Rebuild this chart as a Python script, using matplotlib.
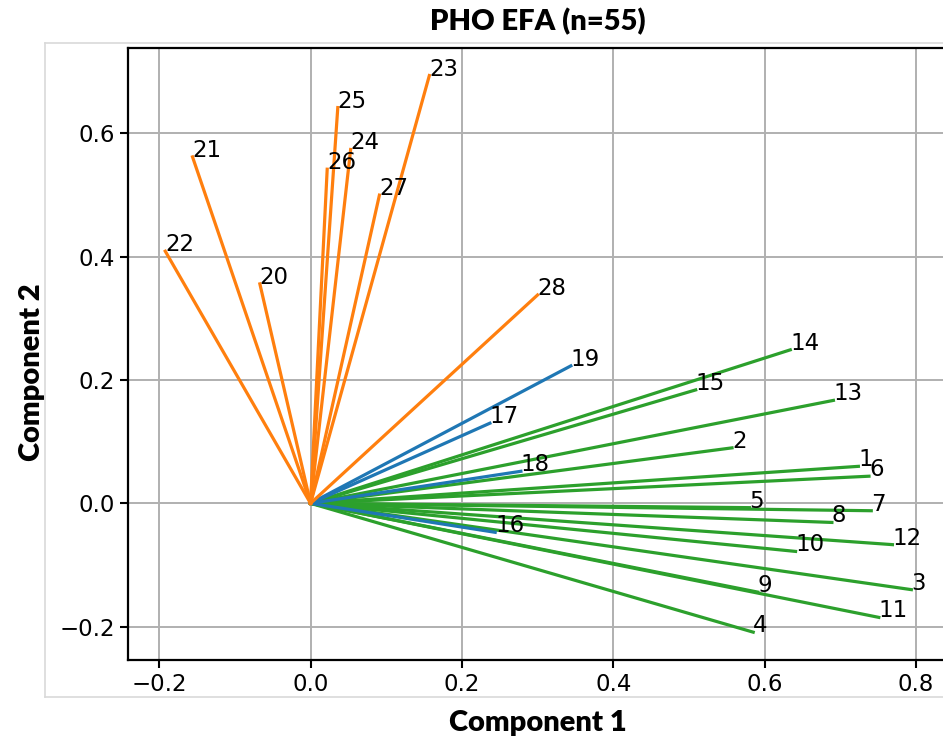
import matplotlib
matplotlib.use('Agg')
import matplotlib.pyplot as plt
from matplotlib.lines import Line2D

# loadings
items = list(range(1, 29))
comp1 = [0.724, 0.557, 0.794, 0.585, 0.580, 0.738, 0.741, 0.689, 0.591, 0.641,
         0.751, 0.769, 0.691, 0.634, 0.509,
         0.244, 0.237, 0.278, 0.344,
         -0.067, -0.156, -0.192, 0.157, 0.053, 0.036, 0.022, 0.091, 0.300]
comp2 = [0.060, 0.090, -0.140, -0.209, -0.007, 0.044, -0.012, -0.031, -0.144, -0.078,
         -0.185, -0.067, 0.167, 0.249, 0.184,
         -0.047, 0.130, 0.052, 0.223,
         0.356, 0.562, 0.409, 0.694, 0.574, 0.642, 0.542, 0.500, 0.338]
groups = ['C2'] * 15 + ['C0'] * 4 + ['C1'] * 9

title = 'PHO EFA (n=55)'
xlab = 'Component 1'
ylab = 'Component 2'

label_font = ['Lato', 'DejaVu Sans']

fig = plt.figure(figsize=(9.43, 7.44), dpi=100)
ax = fig.add_axes([0.1357, 0.1129, 0.8703, 0.823])

for i in range(len(items)):
    ax.plot([0, comp1[i]], [0, comp2[i]], color=groups[i], linewidth=2.3)
    ax.text(comp1[i], comp2[i], str(items[i]), fontsize=16.5)

ax.grid(True, color='#b0b0b0', linewidth=1.4)
ax.set_axisbelow(True)
ax.set_xticks([-0.2, 0.0, 0.2, 0.4, 0.6, 0.8])
ax.set_yticks([-0.2, 0.0, 0.2, 0.4, 0.6])
ax.tick_params(labelsize=16.5, length=6, width=1.5)
for s in ax.spines.values():
    s.set_linewidth(1.6)

fig.text(0.5705, 0.971, title, ha='center', va='center', fontsize=21,
         fontweight='heavy', family=label_font)
fig.text(0.5705, 0.028, xlab, ha='center', va='center', fontsize=21,
         fontweight='heavy', family=label_font)
fig.text(0.034, 0.50, ylab, ha='center', va='center', rotation=90, fontsize=21,
         fontweight='heavy', family=label_font)

# light frame of the pasted screenshot
frame = '#d9d9d9'
fig.add_artist(Line2D([0.048, 1.0], [0.942, 0.942], color=frame, linewidth=1.2))
fig.add_artist(Line2D([0.048, 0.048], [0.063, 0.942], color=frame, linewidth=1.2))
fig.add_artist(Line2D([0.048, 1.0], [0.063, 0.063], color=frame, linewidth=1.2))

fig.savefig('out.png', dpi=100)
